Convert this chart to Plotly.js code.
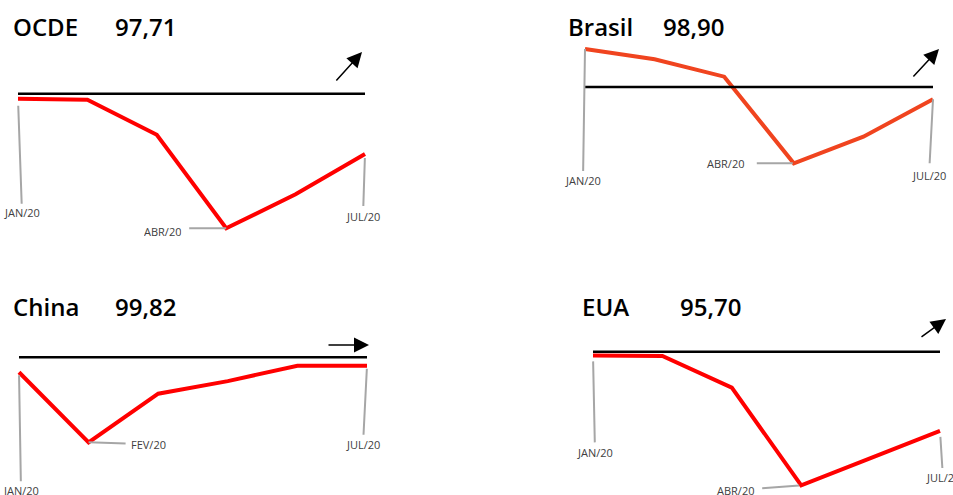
<!DOCTYPE html>
<html>
<head>
<meta charset="utf-8">
<script src="https://cdn.plot.ly/plotly-3.0.1.min.js"></script>
<style>html,body{margin:0;padding:0;background:#fff;}#chart{width:953px;height:495px;}</style>
</head>
<body>
<div id="chart"></div>
<script>
// ---- data ----
const months = ["JAN/20", "FEV/20", "MAR/20", "ABR/20", "MAI/20", "JUL/20"];
const ocde   = [99.81, 99.77, 98.44, 94.89, 96.18, 97.71];
const brasil = [103.39, 102.47, 100.92, 93.19, 95.56, 98.90];
const china  = [99.68, 98.18, 99.22, 99.49, 99.82, 99.82];
const eua    = [99.80, 99.77, 98.05, 92.75, 94.22, 95.70];
const baseline = 100;
const names = ["OCDE", "Brasil", "China", "EUA"];
const seriesList = [ocde, brasil, china, eua];

// ---- layout config (pixels) ----
const W = 953, H = 495;
const panels = [
  {xL: 18, xR: 365, yTop: 93.7, yBot: 228.3, color: "#FF0000",
   title: {x: 11, y: 26, vx: 113},
   arrow: {x: 362, y: 52, ax: -27, ay: 30},
   labels: [
     {i: 0, ax: 4, ay: 114, standoff: 7, start: 1},
     {i: 3, ax: -64, ay: 0, standoff: 0, start: 8, low: 22},
     {i: 5, ax: -2, ay: 62, standoff: 4, start: 2}
   ]},
  {xL: 585, xR: 933, yTop: 49, yBot: 163.3, color: "#F0441F",
   title: {x: 566, y: 26, vx: 661},
   arrow: {x: 939, y: 49, ax: -27, ay: 29},
   labels: [
     {i: 0, ax: -2, ay: 131, standoff: 0, start: 1},
     {i: 3, ax: -68, ay: 0, standoff: 1, start: 12},
     {i: 5, ax: -4, ay: 76, standoff: 0, start: 4}
   ]},
  {xL: 19, xR: 367, yTop: 357.3, yBot: 442.3, color: "#FF0000",
   title: {x: 11, y: 306, vx: 113},
   arrow: {x: 369, y: 345, ax: -42, ay: 0},
   labels: [
     {i: 0, ax: 2, ay: 118, standoff: 3, start: 1},
     {i: 1, ax: 60, ay: 2, standoff: 0, start: 5},
     {i: 5, ax: -4, ay: 79, standoff: 3, start: 2}
   ]},
  {xL: 593, xR: 940, yTop: 351.7, yBot: 485.3, color: "#FF0000",
   title: {x: 580, y: 306, vx: 678},
   arrow: {x: 946, y: 319, ax: -26, ay: 19},
   labels: [
     {i: 0, ax: 2, ay: 97, standoff: 6, start: 2},
     {i: 3, ax: -66, ay: 5, standoff: 2, start: 8},
     {i: 5, ax: 3, ay: 47, standoff: 6, start: 2}
   ]}
];

const traces = [];
const layout = {
  width: W, height: H,
  margin: {l: 0, r: 0, t: 0, b: 0},
  paper_bgcolor: "#ffffff", plot_bgcolor: "#ffffff",
  showlegend: false,
  annotations: [], shapes: []
};

const fx = px => px / W;
const fy = py => 1 - py / H;
const PAD = 12;

panels.forEach((p, k) => {
  const vals = seriesList[k];
  const n = vals.length - 1;
  const sx = k === 0 ? "" : String(k + 1);
  const xa = "x" + sx, ya = "y" + sx;

  // x axis
  const dx = (p.xR - p.xL) / n;
  const padL = PAD, padR = Math.min(PAD, W - p.xR);
  const xaxis = {
    type: "category", visible: false, fixedrange: true,
    categoryorder: "array", categoryarray: months,
    domain: [fx(p.xL - padL), fx(p.xR + padR)],
    range: [-padL / dx, n + padR / dx],
    anchor: ya
  };
  // y axis
  const vmax = Math.max(baseline, ...vals), vmin = Math.min(baseline, ...vals);
  const u = (vmax - vmin) / (p.yBot - p.yTop);
  const padT = Math.min(PAD, p.yTop), padB = Math.min(PAD, H - p.yBot);
  const yaxis = {
    visible: false, fixedrange: true,
    domain: [fy(p.yBot + padB), fy(p.yTop - padT)],
    range: [vmin - padB * u, vmax + padT * u],
    anchor: xa
  };
  layout["xaxis" + sx] = xaxis;
  layout["yaxis" + sx] = yaxis;

  // series
  traces.push({
    x: months, y: vals, xaxis: xa, yaxis: ya, mode: "lines",
    line: {color: p.color, width: 4},
    name: names[k]
  });
  // baseline
  traces.push({
    x: [months[0], months[n]], y: [baseline, baseline],
    xaxis: xa, yaxis: ya, mode: "lines", hoverinfo: "skip",
    line: {color: "#000000", width: 2.6}
  });

  // month labels with leader lines
  p.labels.forEach(l => {
    const ann = {
      x: months[l.i], y: vals[l.i], xref: xa, yref: ya,
      text: months[l.i], showarrow: true, arrowhead: 0,
      arrowwidth: 2, arrowcolor: "#A6A6A6",
      ax: l.ax, ay: l.ay, standoff: l.standoff, startstandoff: l.start,
      font: {family: "Open Sans", size: 11, color: "#404040"},
      borderpad: 0
    };
    if (l.low) { ann.height = l.low; ann.valign = "bottom"; }
    layout.annotations.push(ann);
  });

  // title: name and latest value
  const latest = vals[n].toFixed(2).replace(".", ",");
  layout.annotations.push({
    x: fx(p.title.x), y: fy(p.title.y), xref: "paper", yref: "paper",
    xanchor: "left", yanchor: "middle", showarrow: false, text: names[k],
    font: {family: "Open Sans", size: 24, color: "#000000", weight: 600}
  });
  layout.annotations.push({
    x: fx(p.title.vx), y: fy(p.title.y), xref: "paper", yref: "paper",
    xanchor: "left", yanchor: "middle", showarrow: false, text: latest,
    font: {family: "Open Sans", size: 24, color: "#000000", weight: 600}
  });

  // trend arrow
  layout.annotations.push({
    x: fx(p.arrow.x), y: fy(p.arrow.y), xref: "paper", yref: "paper",
    ax: p.arrow.ax, ay: p.arrow.ay, text: "", showarrow: true,
    arrowhead: 2, arrowsize: 2, arrowwidth: 1.5, arrowcolor: "#000000"
  });
});

Plotly.newPlot("chart", traces, layout, {displayModeBar: false, staticPlot: true});
</script>
</body>
</html>
